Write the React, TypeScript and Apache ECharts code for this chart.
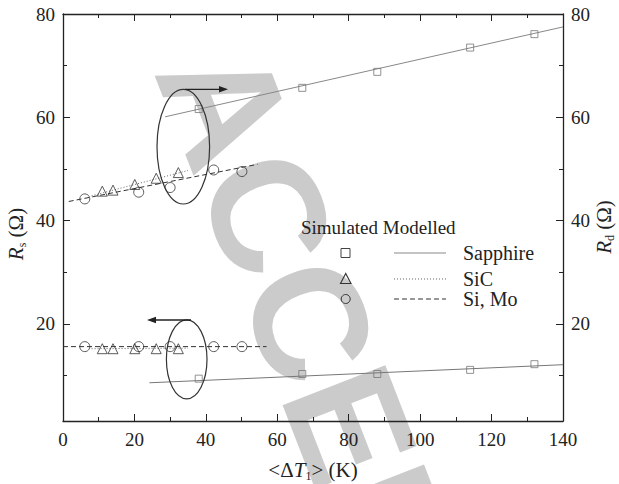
import React, { useEffect, useRef } from "react";
import * as echarts from "echarts";

// ---- data ----
const xSapphire = [38, 67, 88, 114, 132];
const rdSapphire = [61.6, 65.7, 68.8, 73.5, 76.1];
const rsSapphire = [9.4, 10.3, 10.3, 11.1, 12.2];

const xSiC = [11.0, 14.0, 20.1, 26.1, 32.3];
const rdSiC = [45.7, 45.9, 47.0, 48.2, 49.3];
const rsSiC = [15.2, 15.2, 15.2, 15.2, 15.2];

const xSiMo = [6.1, 21.2, 30.0, 42.2, 50.1];
const rdSiMo = [44.2, 45.5, 46.4, 49.8, 49.5];
const rsSiMo = [15.6, 15.6, 15.6, 15.6, 15.6];

const rdSapphireModelX = [28.6, 140];
const rdSapphireModelY = [60.1, 77.5];
const rsSapphireModelX = [24.2, 140];
const rsSapphireModelY = [8.6, 12.1];
const rdSiCModelX = [8, 35];
const rdSiCModelY = [44.8, 49.7];
const rsSiCModelX = [8, 35];
const rsSiCModelY = [15.2, 15.3];
const rdSiMoModelX = [1.6, 54.5];
const rdSiMoModelY = [43.7, 50.9];
const rsSiMoModelX = [0, 57];
const rsSiMoModelY = [15.6, 15.6];

const yMajorTicks = [20, 40, 60, 80];
const yMinorTicks = [10, 30, 50, 70];

const legendTitle = "Simulated Modelled";
const legendNames = ["Sapphire", "SiC", "Si, Mo"];

const FONT = "Liberation Serif";
const INK = "#222";

const pairs = (xs: number[], ys: number[]) => xs.map((x, i) => [x, ys[i]]);

export default function App() {
  const ref = useRef<HTMLDivElement>(null);
  useEffect(() => {
    if (!ref.current) return;
    const chart = echarts.init(ref.current, undefined, { renderer: "svg" });

    const yBase = (pos: "left" | "right", major: boolean) => ({
      type: "value",
      position: pos,
      min: 1.2,
      max: 80,
      splitLine: { show: false },
      axisLine: { show: major, lineStyle: { color: INK, width: 1.3 } },
      axisTick: {
        show: true,
        inside: true,
        length: major ? 7 : 4,
        customValues: major ? yMajorTicks : yMinorTicks,
        lineStyle: { color: INK, width: 1 },
      },
      axisLabel: {
        show: major,
        customValues: yMajorTicks,
        fontFamily: FONT,
        fontSize: 19,
        color: INK,
        margin: 8,
      },
    });

    const xBase = (pos: "bottom" | "top") => ({
      type: "value",
      position: pos,
      min: 0,
      max: 140,
      interval: 20,
      splitLine: { show: false },
      axisLine: { lineStyle: { color: INK, width: 1.3 } },
      axisTick: { inside: true, length: 7, lineStyle: { color: INK } },
      minorTick: { show: true, splitNumber: 2, length: 4, lineStyle: { color: INK } },
      axisLabel: {
        show: pos === "bottom",
        fontFamily: FONT,
        fontSize: 19,
        color: INK,
        margin: 9,
      },
    });

    const scatter = (data: number[][], symbol: string, size: number, color: string) => ({
      type: "scatter",
      data,
      symbol,
      symbolSize: size,
      itemStyle: { color: "transparent", borderColor: color, borderWidth: 1 },
      z: 4,
    });
    const line = (data: number[][], color: string, type: any) => ({
      type: "line",
      data,
      showSymbol: false,
      symbol: "none",
      lineStyle: { color, width: 1, type },
      z: 3,
    });

    const legendRows = [253, 279, 299];
    const legendSymbols: any[] = [
      { type: "rect", shape: { x: 341, y: 248.5, width: 9, height: 9 }, style: { fill: "none", stroke: "#444", lineWidth: 1 } },
      { type: "polygon", shape: { points: [[345.7, 273.5], [340.5, 283.5], [351, 283.5]] }, style: { fill: "none", stroke: "#333", lineWidth: 1.1 } },
      { type: "circle", shape: { cx: 345.7, cy: 299, r: 4.5 }, style: { fill: "none", stroke: "#333", lineWidth: 1 } },
    ];
    const legendLines: any[] = [
      { type: "line", shape: { x1: 394, y1: 253, x2: 446, y2: 253 }, style: { stroke: "#888", lineWidth: 1 } },
      { type: "line", shape: { x1: 394, y1: 279, x2: 446, y2: 279 }, style: { stroke: "#666", lineWidth: 1, lineDash: [1, 2] } },
      { type: "line", shape: { x1: 394, y1: 299, x2: 446, y2: 299 }, style: { stroke: "#333", lineWidth: 1, lineDash: [5, 3] } },
    ];

    const richTitle = {
      a: { fontFamily: FONT, fontSize: 21, fill: INK },
      i: { fontFamily: FONT, fontSize: 21, fontStyle: "italic", fill: INK },
      s: { fontFamily: FONT, fontSize: 12, fill: INK, padding: [11, 0, 0, 0] },
    };

    const option: any = {
      animation: false,
      textStyle: { fontFamily: FONT },
      grid: { left: 63, right: 56, top: 14, bottom: 63 },
      xAxis: [xBase("bottom"), xBase("top")],
      yAxis: [yBase("left", true), yBase("left", false), yBase("right", true), yBase("right", false)],
      series: [
        line(pairs(rdSapphireModelX, rdSapphireModelY), "#888", "solid"),
        line(pairs(rsSapphireModelX, rsSapphireModelY), "#777", "solid"),
        line(pairs(rdSiCModelX, rdSiCModelY), "#666", [1, 2]),
        line(pairs(rsSiCModelX, rsSiCModelY), "#666", [1, 2]),
        line(pairs(rdSiMoModelX, rdSiMoModelY), "#333", [5, 3]),
        line(pairs(rsSiMoModelX, rsSiMoModelY), "#333", [5, 3]),
        scatter(pairs(xSapphire, rdSapphire), "rect", 7, "#777"),
        scatter(pairs(xSapphire, rsSapphire), "rect", 7, "#777"),
        scatter(pairs(xSiC, rdSiC), "triangle", 10, "#333"),
        scatter(pairs(xSiC, rsSiC), "triangle", 10, "#333"),
        scatter(pairs(xSiMo, rdSiMo), "circle", 10, "#333"),
        scatter(pairs(xSiMo, rsSiMo), "circle", 10, "#333"),
      ],
      graphic: [
        // watermark
        {
          type: "text",
          x: 205,
          y: 52,
          rotation: -1.2,
          z: -10,
          silent: true,
          style: {
            text: "ACCEPTED",
            font: "bold 160px 'Liberation Sans', Arial, sans-serif",
            fill: "#cbcbcb",
            align: "left",
            verticalAlign: "middle",
          },
        },
        // annotations
        { type: "ellipse", shape: { cx: 183.3, cy: 146.7, rx: 26.3, ry: 57.3 }, style: { fill: "none", stroke: "#333", lineWidth: 1.2 }, z: 5 },
        { type: "line", shape: { x1: 185, y1: 89.3, x2: 222, y2: 89.3 }, style: { stroke: "#222", lineWidth: 1.3 }, z: 5 },
        { type: "polygon", shape: { points: [[228, 89.3], [219, 86], [219, 92.6]] }, style: { fill: "#222" }, z: 5 },
        { type: "ellipse", shape: { cx: 186.7, cy: 359.3, rx: 20.3, ry: 39.5 }, style: { fill: "none", stroke: "#333", lineWidth: 1.2 }, z: 5 },
        { type: "line", shape: { x1: 191, y1: 320, x2: 153, y2: 320 }, style: { stroke: "#222", lineWidth: 1.3 }, z: 5 },
        { type: "polygon", shape: { points: [[147, 320], [156, 316.7], [156, 323.3]] }, style: { fill: "#222" }, z: 5 },
        // axis titles
        {
          type: "text",
          x: 313,
          y: 470,
          z: 5,
          style: { text: "{a|<Δ}{i|T}{s|1}{a|> (K)}", align: "center", verticalAlign: "middle", rich: richTitle },
        },
        {
          type: "text",
          x: 16,
          y: 234,
          rotation: Math.PI / 2,
          z: 5,
          style: { text: "{i|R}{s|s}{a| (Ω)}", align: "center", verticalAlign: "middle", rich: richTitle },
        },
        {
          type: "text",
          x: 604,
          y: 227,
          rotation: Math.PI / 2,
          z: 5,
          style: { text: "{i|R}{s|d}{a| (Ω)}", align: "center", verticalAlign: "middle", rich: richTitle },
        },
        // legend
        {
          type: "text",
          x: 301,
          y: 227,
          z: 5,
          style: { text: legendTitle, fontFamily: FONT, fontSize: 19, fill: INK, align: "left", verticalAlign: "middle" },
        },
        ...legendSymbols.map((s) => ({ ...s, z: 5 })),
        ...legendLines.map((s) => ({ ...s, z: 5 })),
        ...legendNames.map((n, i) => ({
          type: "text",
          x: 463,
          y: legendRows[i],
          z: 5,
          style: { text: n, fontFamily: FONT, fontSize: 20, fill: INK, align: "left", verticalAlign: "middle" },
        })),
      ],
    };
    chart.setOption(option);
    return () => chart.dispose();
  }, []);
  return (
    <div
      ref={ref}
      style={{ position: "fixed", left: 0, top: 0, width: 619, height: 484, background: "#fff" }}
    />
  );
}
